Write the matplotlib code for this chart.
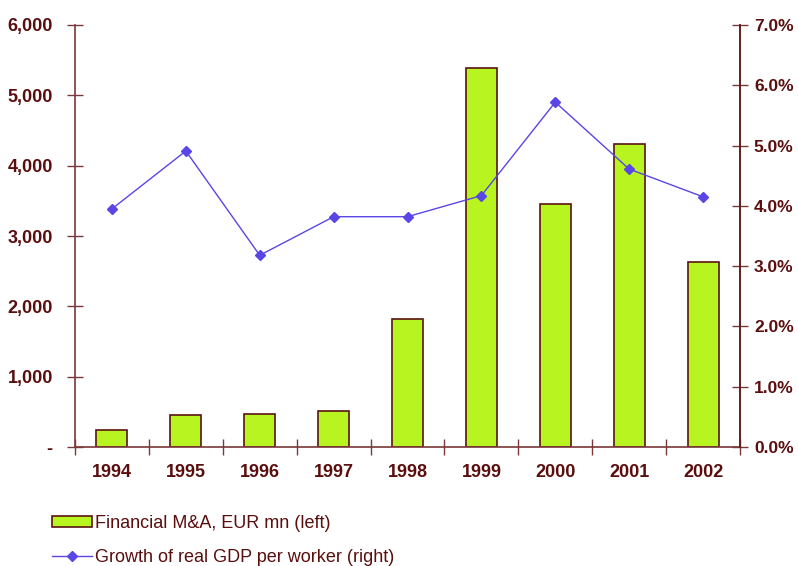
import matplotlib
matplotlib.use("Agg")
import matplotlib.pyplot as plt
from matplotlib.patches import Patch
from matplotlib.lines import Line2D
import numpy as np

years = ["1994", "1995", "1996", "1997", "1998", "1999", "2000", "2001", "2002"]
ma_values = [245, 455, 470, 505, 1820, 5390, 3450, 4310, 2630]
gdp_growth = [3.95, 4.91, 3.18, 3.82, 3.82, 4.17, 5.72, 4.61, 4.15]
left_ticks = [0, 1000, 2000, 3000, 4000, 5000, 6000]
left_labels = ["-", "1,000", "2,000", "3,000", "4,000", "5,000", "6,000"]
right_ticks = [0, 1, 2, 3, 4, 5, 6, 7]

plt.rcParams['font.family'] = ['Liberation Sans', 'DejaVu Sans']
txt = "#5A0E0E"
spine_c = "#7A3838"
bar_face = "#B8F520"
bar_edge = "#5A1212"
line_c = "#5A46E6"
fs = 13

fig = plt.figure(figsize=(7.98, 5.66), dpi=100)
ax = fig.add_axes([75/798, 1-447/566, (740-75)/798, (447-25)/566])
x = np.arange(len(years))
ax.bar(x, ma_values, width=0.42, color=bar_face, edgecolor=bar_edge, linewidth=1.2, zorder=2)
ax.set_xlim(-0.5, len(years) - 0.5)
ax.set_ylim(0, 6000)
ax.set_yticks(left_ticks)
ax.set_yticklabels(left_labels, fontsize=fs, fontweight='bold', color=txt)
ax.tick_params(axis='y', direction='inout', length=12, width=1, color=spine_c, pad=10)
ax.set_xticks(x)
ax.set_xticklabels(years, fontsize=fs, fontweight='bold', color=txt)
ax.tick_params(axis='x', which='major', length=0, pad=12)
ax.set_xticks(np.arange(-0.5, len(years), 1.0), minor=True)
ax.tick_params(axis='x', which='minor', direction='inout', length=11, width=1, color=spine_c)
ax.spines['top'].set_visible(False)
for s in ['left', 'bottom', 'right']:
    ax.spines[s].set_color(spine_c)
    ax.spines[s].set_linewidth(1.2)

ax2 = ax.twinx()
ax2.plot(x, gdp_growth, color=line_c, linewidth=1, marker='D', markersize=5.5,
         markerfacecolor=line_c, markeredgecolor=line_c, zorder=3)
ax2.set_ylim(0, 7)
ax2.set_yticks(right_ticks)
ax2.set_yticklabels([f"{v:.1f}%" for v in right_ticks], fontsize=12.5, fontweight='bold', color=txt)
ax2.tick_params(axis='y', direction='inout', length=12, width=1, color=spine_c, pad=4)
ax2.spines['top'].set_visible(False)
ax2.spines['right'].set_color("#5A1A1A")
ax2.spines['right'].set_linewidth(1.2)
ax2.spines['left'].set_visible(False)
ax2.spines['bottom'].set_visible(False)

handles = [Patch(facecolor=bar_face, edgecolor=bar_edge, linewidth=1.2),
           Line2D([0], [0], color=line_c, linewidth=1, marker='D', markersize=5,
                  markerfacecolor=line_c)]
labels = ["Financial M&A, EUR mn (left)", "Growth of real GDP per worker (right)"]
leg = fig.legend(handles, labels, loc='upper left', bbox_to_anchor=(52/798, 1-515/566),
                 frameon=False, fontsize=fs, handlelength=2.2, handleheight=0.6,
                 handletextpad=0.2, labelspacing=0.95, borderpad=0, borderaxespad=0)
for t in leg.get_texts():
    t.set_color(txt)

fig.savefig("out.png", dpi=100)
